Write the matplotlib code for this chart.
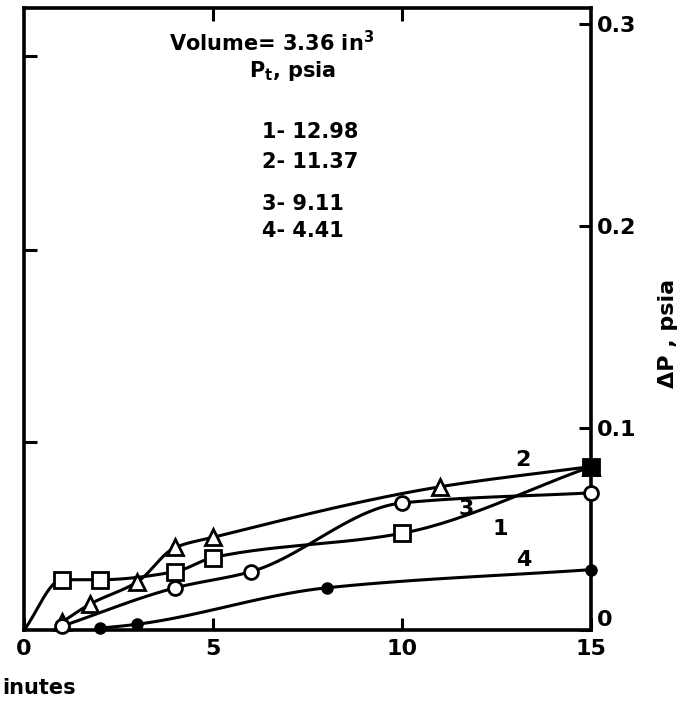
import numpy as np
import matplotlib.pyplot as plt

# time (minutes) and pressure rise (psia) for the four runs
t1 = [0, 1, 2, 4, 5, 10, 15]
dp1 = [0.0, 0.025, 0.025, 0.029, 0.036, 0.048, 0.081]
t2 = [1, 1.75, 3, 4, 5, 11, 15]
dp2 = [0.004, 0.013, 0.024, 0.041, 0.046, 0.071, 0.081]
t3 = [1, 4, 6, 10, 15]
dp3 = [0.002, 0.021, 0.029, 0.063, 0.068]
t4 = [2, 3, 8, 15]
dp4 = [0.001, 0.003, 0.021, 0.030]

run_names = ["1", "2", "3", "4"]
p_total = ["12.98", "11.37", "9.11", "4.41"]

x_ticks = [0, 5, 10, 15]
y_ticks = [0, 0.1, 0.2, 0.3]
y_ticklabels = ["0", "0.1", "0.2", "0.3"]
left_ticks = [0.093, 0.188, 0.284]


def smooth(x, y, n=30):
    # monotone cubic (Fritsch-Carlson) curve through the measured points
    x = np.asarray(x, float)
    y = np.asarray(y, float)
    h = np.diff(x)
    d = np.diff(y) / h
    m = np.zeros_like(y)
    m[0], m[-1] = d[0], d[-1]
    for k in range(1, len(x) - 1):
        if d[k - 1] * d[k] > 0:
            w1 = 2 * h[k] + h[k - 1]
            w2 = h[k] + 2 * h[k - 1]
            m[k] = (w1 + w2) / (w1 / d[k - 1] + w2 / d[k])
    xs, ys = [], []
    for k in range(len(x) - 1):
        s = np.linspace(0, 1, n)
        h00 = 2 * s ** 3 - 3 * s ** 2 + 1
        h10 = s ** 3 - 2 * s ** 2 + s
        h01 = -2 * s ** 3 + 3 * s ** 2
        h11 = s ** 3 - s ** 2
        xs.extend(x[k] + s * h[k])
        ys.extend(h00 * y[k] + h10 * h[k] * m[k] + h01 * y[k + 1] + h11 * h[k] * m[k + 1])
    return xs, ys


plt.rcParams['font.family'] = 'DejaVu Sans'
plt.rcParams['font.weight'] = 'bold'

fig = plt.figure(figsize=(6.86, 7.05), dpi=100)
ax = fig.add_axes([0.035, 0.106, 0.827, 0.883])

lw = 2.2
for t, dp, mk, ms, fc in [(t1, dp1, 's', 11, 'white'),
                          (t2, dp2, '^', 12, 'white'),
                          (t3, dp3, 'o', 10, 'white'),
                          (t4, dp4, 'o', 7, 'black')]:
    xs, ys = smooth(t, dp)
    ax.plot(xs, ys, color='black', lw=lw, solid_capstyle='round', zorder=2, clip_on=False)
    # run 1 starts from the origin without a symbol there
    pts = slice(1, None) if t is t1 else slice(None)
    ax.plot(t[pts], dp[pts], ls='none', marker=mk, ms=ms, mfc=fc, mec='black', mew=2.0,
            zorder=3, clip_on=False)
# end point shared by runs 1 and 2
ax.plot(t1[-1], dp1[-1], ls='none', marker='s', ms=10, mfc='black', mec='black',
        zorder=4, clip_on=False)

# run numbers written beside the curves
for name, (x, y) in zip(run_names, [(12.6, 0.050), (13.2, 0.084), (11.7, 0.060), (13.2, 0.035)]):
    ax.text(x, y, name, fontsize=16, ha='center', va='center')

ax.text(6.55, 0.291, "Volume= 3.36 in$^{\\mathbf{3}}$", fontsize=15, ha='center', va='center')
ax.text(7.1, 0.2767, "P$_{\\mathbf{t}}$, psia", fontsize=15, ha='center', va='center')
for name, p, y in zip(run_names, p_total, [0.2464, 0.2315, 0.2107, 0.1973]):
    ax.text(6.3, y, f"{name}- {p}", fontsize=15, ha='left', va='center')

ax.set_xlim(0, 15)
ax.set_ylim(0, 0.308)
ax.set_xticks(x_ticks)
ax.set_xticklabels([str(v) for v in x_ticks])
ax.yaxis.tick_right()
ax.set_yticks(y_ticks)
ax.set_yticklabels(y_ticklabels)
ax.tick_params(axis='both', direction='in', length=9, width=2.2, labelsize=16, pad=4)
ax.tick_params(axis='x', pad=6)
# the zero on the right sits just above the corner
ax.get_yticklabels()[0].set_verticalalignment('bottom')

ax_left = ax.secondary_yaxis('left')
ax_left.set_yticks(left_ticks)
ax_left.set_yticklabels([])
ax_left.tick_params(direction='in', length=9, width=2.2)
ax_left.spines['left'].set_visible(False)

ax_top = ax.secondary_xaxis('top')
ax_top.set_xticks([5, 10])
ax_top.set_xticklabels([])
ax_top.tick_params(direction='in', length=9, width=2.2)
ax_top.spines['top'].set_visible(False)

for s in ax.spines.values():
    s.set_linewidth(2.6)

fig.text(668 / 686, 1 - 333 / 705, "ΔP , psia", rotation=90, fontsize=16,
         ha='center', va='center')
fig.text(2 / 686, 1 - 688 / 705, "inutes", fontsize=15, ha='left', va='center')

fig.savefig("out.png", dpi=100)
